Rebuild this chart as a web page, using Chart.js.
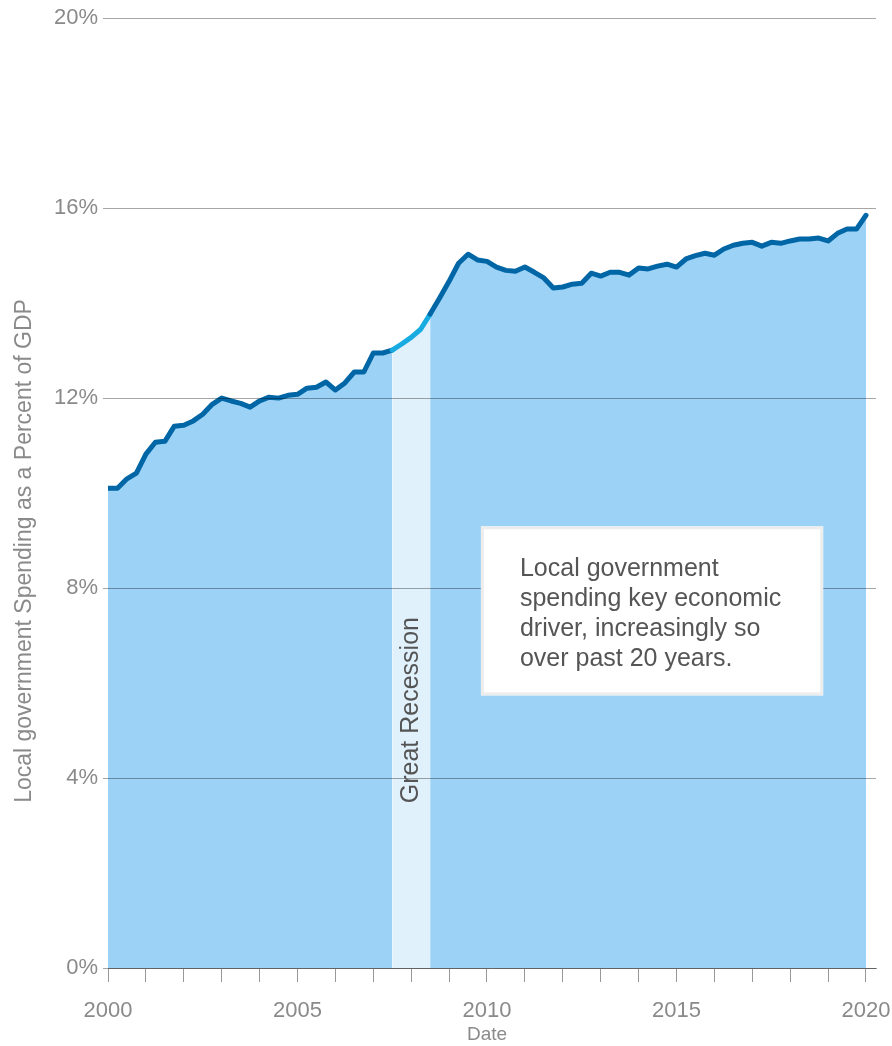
<!DOCTYPE html>
<html>
<head>
<meta charset="utf-8">
<script src="https://cdn.jsdelivr.net/npm/chart.js@4/dist/chart.umd.min.js"></script>
<style>
  html, body { margin: 0; padding: 0; background: #fff; }
  #wrap { width: 892px; height: 1046px; }
</style>
</head>
<body>
<div id="wrap"><canvas id="myChart"></canvas></div>
<script>
// quarterly local government spending, % of GDP, 2000 Q1 .. 2020 Q1
var firstYear = 2000;
var spending = [
  10.10, 10.10, 10.30, 10.42, 10.82, 11.07, 11.09, 11.41, 11.43, 11.52,
  11.66, 11.87, 12.00, 11.94, 11.89, 11.81, 11.94, 12.02, 12.00, 12.06,
  12.08, 12.21, 12.23, 12.34, 12.17, 12.32, 12.55, 12.55, 12.95, 12.95,
  13.01, 13.14, 13.28, 13.45, 13.77, 14.11, 14.46, 14.84, 15.03, 14.91,
  14.88, 14.76, 14.69, 14.67, 14.76, 14.65, 14.53, 14.32, 14.34, 14.40,
  14.42, 14.63, 14.57, 14.65, 14.65, 14.59, 14.74, 14.72, 14.78, 14.82,
  14.76, 14.93, 15.00, 15.05, 15.01, 15.14, 15.22, 15.26, 15.28, 15.20,
  15.28, 15.26, 15.31, 15.35, 15.35, 15.37, 15.31, 15.47, 15.56, 15.56,
  15.85
];
var yearLabels = [2000, 2005, 2010, 2015, 2020];
var percentTicks = [0, 4, 8, 12, 16, 20];
var recession = [2007.5, 2008.5];
var recessionLabel = 'Great Recession';
var noteLines = ['Local government', 'spending key economic', 'driver, increasingly so', 'over past 20 years.'];
var yTitle = 'Local government Spending as a Percent of GDP';

var points = spending.map(function (v, i) { return { x: firstYear + i / 4, y: v }; });

var lineBlue = '#0066a6';
var recessionBlue = '#17abe2';
var areaBlue = '#9dd2f7';
var bandBlue = '#e1f1fc';
var tickGray = '#8a8a8a';
var fontFam = '"Liberation Sans", Arial, sans-serif';

function inRecession(ctx) {
  var a = points[ctx.p0DataIndex].x, b = points[ctx.p1DataIndex].x;
  return a >= recession[0] && b <= recession[1];
}

var overlay = {
  id: 'overlay',
  afterDraw: function (chart) {
    var ctx = chart.ctx, x = chart.scales.x, y = chart.scales.y, area = chart.chartArea;

    // put the line back above the grid lines
    ctx.save();
    ctx.beginPath();
    ctx.rect(area.left, area.top - 10, area.right - area.left + 10, area.bottom - area.top + 10);
    ctx.clip();
    chart.getDatasetMeta(0).dataset.draw(ctx, area);
    ctx.restore();

    // recession label
    ctx.save();
    ctx.translate(x.getPixelForValue((recession[0] + recession[1]) / 2), y.getPixelForValue(5.43));
    ctx.rotate(-Math.PI / 2);
    ctx.fillStyle = '#555';
    ctx.font = '25px ' + fontFam;
    ctx.textAlign = 'center';
    ctx.textBaseline = 'middle';
    ctx.fillText(recessionLabel, 0, 0);
    ctx.restore();

    // note box
    var bx0 = x.getPixelForValue(2009.84), bx1 = x.getPixelForValue(2018.87);
    var by0 = y.getPixelForValue(9.3), by1 = y.getPixelForValue(5.74);
    ctx.save();
    ctx.fillStyle = '#fff';
    ctx.fillRect(bx0, by0, bx1 - bx0, by1 - by0);
    ctx.strokeStyle = '#ededed';
    ctx.lineWidth = 3;
    ctx.strokeRect(bx0 + 1.5, by0 + 1.5, bx1 - bx0 - 3, by1 - by0 - 3);
    ctx.fillStyle = '#555';
    ctx.font = '25px ' + fontFam;
    ctx.textBaseline = 'alphabetic';
    noteLines.forEach(function (t, i) {
      ctx.fillText(t, bx0 + 39, by0 + 50 + i * 30);
    });
    ctx.restore();

    // y axis title
    ctx.save();
    ctx.translate(25, 551);
    ctx.rotate(-Math.PI / 2);
    ctx.fillStyle = tickGray;
    ctx.font = '23px ' + fontFam;
    ctx.textAlign = 'center';
    ctx.textBaseline = 'middle';
    ctx.fillText(yTitle, 0, 0);
    ctx.restore();

    // x axis title, centred under the 2000-2020 span
    ctx.save();
    ctx.fillStyle = tickGray;
    ctx.font = '19px ' + fontFam;
    ctx.textAlign = 'center';
    ctx.textBaseline = 'middle';
    ctx.fillText('Date', (x.getPixelForValue(2000) + x.getPixelForValue(2020)) / 2, 1035);
    ctx.restore();
  }
};

var ctx = document.getElementById('myChart').getContext('2d');
var chart = new Chart(ctx, {
  type: 'line',
  data: {
    datasets: [{
      data: points,
      borderColor: lineBlue,
      backgroundColor: areaBlue,
      borderWidth: 5,
      borderJoinStyle: 'round',
      borderCapStyle: 'round',
      pointRadius: 0,
      tension: 0,
      fill: 'origin',
      segment: {
        borderColor: function (c) { return inRecession(c) ? recessionBlue : undefined; },
        backgroundColor: function (c) { return inRecession(c) ? bandBlue : undefined; }
      }
    }]
  },
  options: {
    responsive: true,
    maintainAspectRatio: false,
    animation: false,
    layout: { padding: { top: 18, right: 16, left: 0, bottom: 0 } },
    plugins: { legend: { display: false }, tooltip: { enabled: false } },
    scales: {
      x: {
        type: 'linear',
        min: 2000,
        max: 2020.264,
        afterFit: function (s) { s.height = 78; s.paddingLeft = 0; s.paddingRight = 0; },
        grid: { drawOnChartArea: false, drawTicks: true, tickLength: 14, color: '#999' },
        border: { display: true, color: '#999', width: 1 },
        ticks: {
          stepSize: 1,
          includeBounds: false,
          autoSkip: false,
          maxRotation: 0,
          padding: 16,
          color: tickGray,
          font: { size: 22, family: fontFam },
          callback: function (v) { return yearLabels.indexOf(v) >= 0 ? String(v) : ''; }
        },
        title: { display: false }
      },
      y: {
        min: 0,
        max: 20,
        afterFit: function (s) { s.width = 108; },
        afterBuildTicks: function (s) { s.ticks = percentTicks.map(function (v) { return { value: v }; }); },
        grid: { z: 1, color: 'rgba(0,0,0,0.35)', tickLength: 5, drawTicks: true },
        border: { display: false },
        ticks: {
          padding: 5,
          color: tickGray,
          font: { size: 22, family: fontFam },
          callback: function (v) { return v + '%'; }
        }
      }
    }
  },
  plugins: [overlay]
});
</script>
</body>
</html>
